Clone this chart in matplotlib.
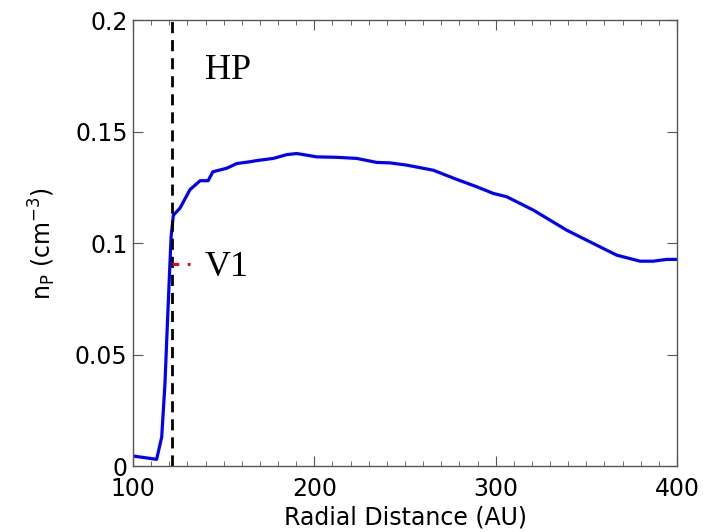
import matplotlib
matplotlib.use("Agg")
from matplotlib import pyplot as plt
from matplotlib.ticker import MultipleLocator

# proton density along the V1 direction
r_au = [100, 113, 115.8, 117.6, 119.1, 120.4, 121, 122.2, 125.9, 131.4, 137, 141.4,
        144, 151.7, 157.2, 164.5, 168, 177.3, 184.8, 190.3, 201.3, 212.3, 223.4,
        234.4, 241.7, 250.9, 265.6, 278.5, 289.5, 298.7, 306.1, 320.8, 339.2,
        357.6, 366.8, 379.6, 387, 394.3, 400]
n_p = [0.0045, 0.003, 0.013, 0.037, 0.067, 0.092, 0.103, 0.1125, 0.1157, 0.124,
       0.128, 0.128, 0.132, 0.1336, 0.1357, 0.1365, 0.137, 0.138, 0.1397, 0.1402,
       0.1387, 0.1385, 0.138, 0.1362, 0.136, 0.135, 0.1327, 0.1286, 0.1253,
       0.1223, 0.1208, 0.1148, 0.1058, 0.0983, 0.0946, 0.0919, 0.0919, 0.0927,
       0.0927]

hp_r = 121.3
v1_r = [121.3, 131.5]
v1_n = [0.0905, 0.0905]

plt.rcParams["font.family"] = ["DejaVu Sans"]

fig = plt.figure(figsize=(7.04, 5.32), dpi=100)
ax = fig.add_axes([0.189, 0.124, 0.7726, 0.838])

ax.plot(r_au, n_p, color="#0000ff", lw=2.3)
ax.axvline(hp_r, color="black", lw=2, ls=(0, (4, 2.5)))
ax.plot(v1_r, v1_n, color="red", lw=2.2, ls=(0, (2.2, 2.8)))

ax.text(139.5, 0.1775, "HP", fontsize=26, family="Liberation Serif", va="center")
ax.text(139.5, 0.089, "V1", fontsize=26, family="Liberation Serif", va="center")

ax.set_xlim(100, 400)
ax.set_ylim(0, 0.2)
ax.set_xticks([100, 200, 300, 400])
ax.set_yticks([0, 0.05, 0.1, 0.15, 0.2])
ax.set_yticklabels(["0", "0.05", "0.1", "0.15", "0.2"])
ax.xaxis.set_minor_locator(MultipleLocator(10))
ax.tick_params(which="both", direction="in", top=True, right=True,
               labelsize=17, color="#555555")
ax.tick_params(axis="x", pad=8)
ax.tick_params(axis="y", pad=4)
ax.tick_params(which="major", length=7)
ax.tick_params(which="minor", length=3.5)
for s in ax.spines.values():
    s.set_color("#555555")
    s.set_linewidth(1)

ax.set_xlabel("Radial Distance (AU)", fontsize=17, labelpad=3)
ax.set_ylabel("n$_\\mathregular{P}$ (cm$^\\mathregular{-3}$)", fontsize=17, labelpad=12)

plt.savefig("out.png")
